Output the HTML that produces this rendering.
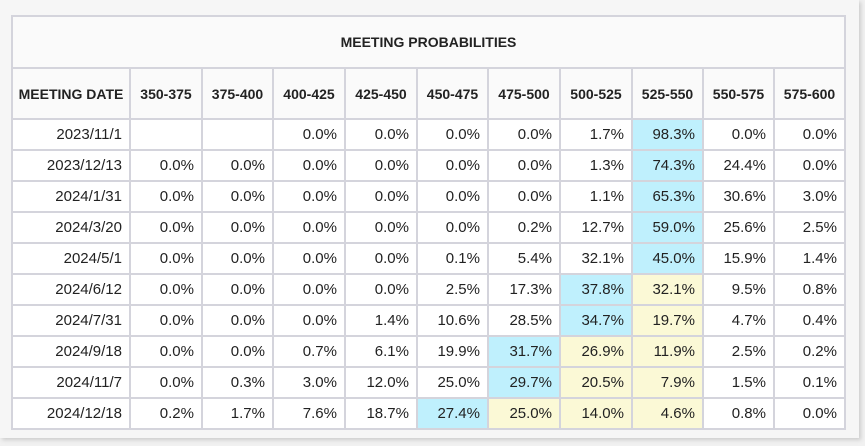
<!DOCTYPE html><html><head><style>
body{margin:0;width:865px;height:446px;background:#f1f1f1;font-family:"Liberation Sans",Arial,sans-serif;position:relative;overflow:hidden}
#w{position:absolute;left:0;top:0;width:859px;height:438px;background:#f6f6f6;box-shadow:2px 2px 4px #ccc}
table{position:absolute;left:11px;top:15px;border-collapse:collapse;table-layout:fixed;background:#fff}
td,th{border:2px solid #d4d4dc;padding:0 7px 0 0;color:#222;font-size:15px;text-align:right;height:29px;box-sizing:border-box;white-space:nowrap}
td{height:31px}
th{font-weight:bold;font-size:14px;text-align:center;padding:0;background:#fafafa;height:51px}
th.t{height:52px}
.b{background:#bff0fd}.y{background:#fbf9d6}
</style></head><body><div id="w"></div>
<table>
<colgroup><col style="width:118px"><col style="width:72px"><col style="width:71px"><col style="width:72px"><col style="width:72px"><col style="width:71px"><col style="width:72px"><col style="width:72px"><col style="width:71px"><col style="width:71px"><col style="width:71px"></colgroup>
<tr><th class="t" colspan="11">MEETING PROBABILITIES</th></tr>
<tr><th>MEETING DATE</th><th>350-375</th><th>375-400</th><th>400-425</th><th>425-450</th><th>450-475</th><th>475-500</th><th>500-525</th><th>525-550</th><th>550-575</th><th>575-600</th></tr>
<tr><td>2023/11/1</td><td></td><td></td><td>0.0%</td><td>0.0%</td><td>0.0%</td><td>0.0%</td><td>1.7%</td><td class="b">98.3%</td><td>0.0%</td><td>0.0%</td></tr>
<tr><td>2023/12/13</td><td>0.0%</td><td>0.0%</td><td>0.0%</td><td>0.0%</td><td>0.0%</td><td>0.0%</td><td>1.3%</td><td class="b">74.3%</td><td>24.4%</td><td>0.0%</td></tr>
<tr><td>2024/1/31</td><td>0.0%</td><td>0.0%</td><td>0.0%</td><td>0.0%</td><td>0.0%</td><td>0.0%</td><td>1.1%</td><td class="b">65.3%</td><td>30.6%</td><td>3.0%</td></tr>
<tr><td>2024/3/20</td><td>0.0%</td><td>0.0%</td><td>0.0%</td><td>0.0%</td><td>0.0%</td><td>0.2%</td><td>12.7%</td><td class="b">59.0%</td><td>25.6%</td><td>2.5%</td></tr>
<tr><td>2024/5/1</td><td>0.0%</td><td>0.0%</td><td>0.0%</td><td>0.0%</td><td>0.1%</td><td>5.4%</td><td>32.1%</td><td class="b">45.0%</td><td>15.9%</td><td>1.4%</td></tr>
<tr><td>2024/6/12</td><td>0.0%</td><td>0.0%</td><td>0.0%</td><td>0.0%</td><td>2.5%</td><td>17.3%</td><td class="b">37.8%</td><td class="y">32.1%</td><td>9.5%</td><td>0.8%</td></tr>
<tr><td>2024/7/31</td><td>0.0%</td><td>0.0%</td><td>0.0%</td><td>1.4%</td><td>10.6%</td><td>28.5%</td><td class="b">34.7%</td><td class="y">19.7%</td><td>4.7%</td><td>0.4%</td></tr>
<tr><td>2024/9/18</td><td>0.0%</td><td>0.0%</td><td>0.7%</td><td>6.1%</td><td>19.9%</td><td class="b">31.7%</td><td class="y">26.9%</td><td class="y">11.9%</td><td>2.5%</td><td>0.2%</td></tr>
<tr><td>2024/11/7</td><td>0.0%</td><td>0.3%</td><td>3.0%</td><td>12.0%</td><td>25.0%</td><td class="b">29.7%</td><td class="y">20.5%</td><td class="y">7.9%</td><td>1.5%</td><td>0.1%</td></tr>
<tr><td>2024/12/18</td><td>0.2%</td><td>1.7%</td><td>7.6%</td><td>18.7%</td><td class="b">27.4%</td><td class="y">25.0%</td><td class="y">14.0%</td><td class="y">4.6%</td><td>0.8%</td><td>0.0%</td></tr>
</table></body></html>
